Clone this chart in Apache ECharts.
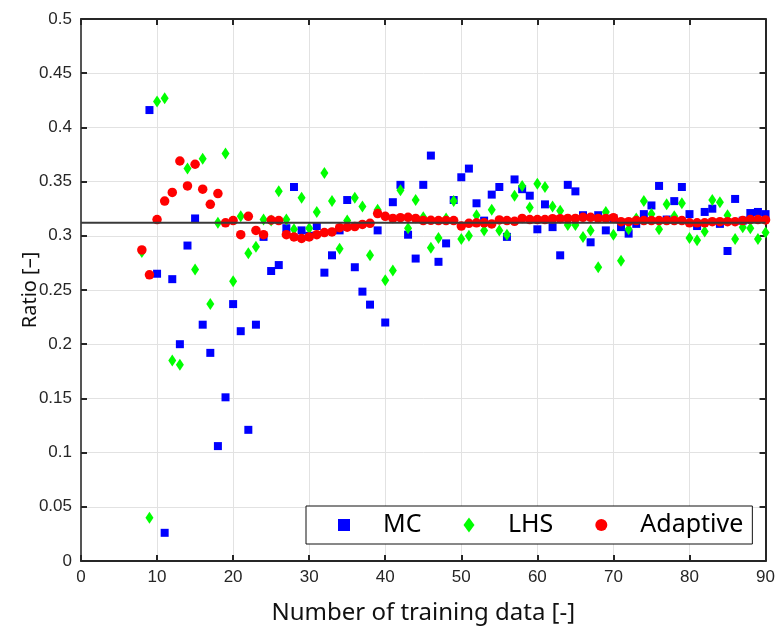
<!DOCTYPE html>
<html>
<head>
<meta charset="utf-8">
<script src="https://cdn.jsdelivr.net/npm/echarts@6/dist/echarts.min.js"></script>
<style>
  html, body { margin: 0; padding: 0; background: #ffffff; }
  #chart { width: 778px; height: 630px; }
</style>
</head>
<body>
<div id="chart"></div>
<script>
// Training-set sizes for each sampling method
const mcCounts = [];
for (let n = 9; n <= 90; n++) mcCounts.push(n);
const lhsCounts = [];
for (let n = 8; n <= 90; n++) lhsCounts.push(n);
const adaptiveCounts = [];
for (let n = 8; n <= 90; n++) adaptiveCounts.push(n);

// Estimated ratio for each training-set size
const mcValues = [
  0.416, 0.265, 0.026, 0.260, 0.200, 0.291, 0.316, 0.218, 0.192, 0.106,
  0.151, 0.237, 0.212, 0.121, 0.218, 0.299, 0.2675, 0.273, 0.307, 0.345,
  0.305, 0.300, 0.309, 0.266, 0.282, 0.305, 0.333, 0.271, 0.2485, 0.2365,
  0.305, 0.220, 0.331, 0.347, 0.301, 0.279, 0.347, 0.374, 0.276, 0.293,
  0.333, 0.354, 0.362, 0.330, 0.314, 0.338, 0.345, 0.299, 0.352, 0.343,
  0.337, 0.306, 0.329, 0.308, 0.282, 0.347, 0.341, 0.319, 0.294, 0.319,
  0.305, 0.316, 0.308, 0.302, 0.311, 0.320, 0.328, 0.346, 0.315, 0.332,
  0.345, 0.320, 0.309, 0.322, 0.325, 0.311, 0.286, 0.334, 0.314, 0.321,
  0.322, 0.320
];
const lhsValues = [
  0.285, 0.040, 0.424, 0.427, 0.185, 0.181, 0.362, 0.269, 0.371, 0.237,
  0.312, 0.376, 0.258, 0.318, 0.284, 0.290, 0.315, 0.314, 0.341, 0.315,
  0.306, 0.335, 0.307, 0.322, 0.358, 0.332, 0.288, 0.314, 0.335, 0.327,
  0.282, 0.324, 0.259, 0.268, 0.342, 0.307, 0.333, 0.317, 0.289, 0.298,
  0.316, 0.332, 0.297, 0.300, 0.319, 0.305, 0.324, 0.305, 0.301, 0.337,
  0.346, 0.326, 0.348, 0.345, 0.327, 0.323, 0.310, 0.310, 0.299, 0.305,
  0.271, 0.322, 0.301, 0.277, 0.306, 0.316, 0.332, 0.320, 0.306, 0.329,
  0.318, 0.330, 0.298, 0.296, 0.304, 0.333, 0.331, 0.319, 0.297, 0.308,
  0.307, 0.297, 0.303
];
const adaptiveValues = [
  0.287, 0.264, 0.315, 0.332, 0.340, 0.369, 0.346, 0.366, 0.343, 0.329,
  0.339, 0.312, 0.314, 0.301, 0.318, 0.305, 0.301, 0.3145, 0.314, 0.301,
  0.299, 0.2975, 0.299, 0.301, 0.303, 0.3036, 0.3075, 0.308, 0.3085, 0.3105,
  0.3115, 0.3205, 0.318, 0.316, 0.3167, 0.317, 0.316, 0.314, 0.3143, 0.314,
  0.314, 0.314, 0.309, 0.3115, 0.312, 0.312, 0.311, 0.3146, 0.314, 0.3134,
  0.316, 0.315, 0.315, 0.315, 0.3158, 0.3158, 0.316, 0.316, 0.317, 0.317,
  0.316, 0.316, 0.3167, 0.313, 0.313, 0.314, 0.314, 0.314, 0.314, 0.314,
  0.314, 0.314, 0.312, 0.312, 0.312, 0.313, 0.313, 0.313, 0.313, 0.314,
  0.315, 0.315, 0.3146
];

// Reference ratio drawn as a horizontal line across the plot
const referenceRatio = 0.312;
const referenceSpan = [0, 90];

const xTicks = { min: 0, max: 90, interval: 10 };
const yTicks = { min: 0, max: 0.5, interval: 0.05 };

const pairs = (xs, ys) => xs.map((x, i) => [x, ys[i]]);

const axisColor = '#262626';
const gridColor = '#e2e2e2';
const tickFont = 'Liberation Sans, Arial, sans-serif';
const titleFont = 'Noto Sans, sans-serif';

const chart = echarts.init(document.getElementById('chart'), null, { renderer: 'canvas' });

chart.setOption({
  animation: false,
  backgroundColor: '#ffffff',
  grid: { left: 81, right: 9, top: 19, bottom: 69, containLabel: false },
  xAxis: [
    {
      type: 'value', position: 'bottom',
      min: xTicks.min, max: xTicks.max, interval: xTicks.interval,
      name: 'Number of training data [-]',
      nameLocation: 'middle', nameGap: 40, nameMoveOverlap: false,
      nameTextStyle: { fontFamily: titleFont, fontSize: 24, color: '#111' },
      axisLine: { show: true, onZero: false, lineStyle: { color: axisColor, width: 2 } },
      axisTick: { show: true, inside: true, length: 6, lineStyle: { color: axisColor, width: 2 } },
      axisLabel: { fontFamily: tickFont, fontSize: 17, color: axisColor, margin: 8 },
      splitLine: { show: true, lineStyle: { color: gridColor, width: 1 } }
    },
    {
      type: 'value', position: 'top',
      min: xTicks.min, max: xTicks.max, interval: xTicks.interval,
      axisLine: { show: true, onZero: false, lineStyle: { color: axisColor, width: 2 } },
      axisTick: { show: true, inside: true, length: 6, lineStyle: { color: axisColor, width: 2 } },
      axisLabel: { show: false },
      splitLine: { show: false }
    }
  ],
  yAxis: [
    {
      type: 'value', position: 'left',
      min: yTicks.min, max: yTicks.max, interval: yTicks.interval,
      name: 'Ratio [–]',
      nameLocation: 'middle', nameGap: 41, nameRotate: 90, nameMoveOverlap: false,
      nameTextStyle: { fontFamily: titleFont, fontSize: 20, color: '#111' },
      axisLine: { show: true, onZero: false, lineStyle: { color: '#555', width: 2 } },
      axisTick: { show: true, inside: true, length: 6, lineStyle: { color: axisColor, width: 2 } },
      axisLabel: {
        fontFamily: tickFont, fontSize: 17, color: axisColor, margin: 9,
        formatter: v => String(Math.round(v * 100) / 100)
      },
      splitLine: { show: true, lineStyle: { color: gridColor, width: 1 } }
    },
    {
      type: 'value', position: 'right',
      min: yTicks.min, max: yTicks.max, interval: yTicks.interval,
      axisLine: { show: true, onZero: false, lineStyle: { color: axisColor, width: 2 } },
      axisTick: { show: true, inside: true, length: 6, lineStyle: { color: axisColor, width: 2 } },
      axisLabel: { show: false },
      splitLine: { show: false }
    }
  ],
  legend: {
    left: 306, top: 506,
    orient: 'horizontal',
    backgroundColor: '#ffffff',
    borderColor: '#111',
    borderWidth: 1,
    padding: [4, 9, 4, 32],
    itemGap: 42,
    itemWidth: 12,
    itemHeight: 15,
    selectedMode: false,
    textStyle: { fontFamily: titleFont, fontSize: 25, color: '#000', padding: [0, 0, 0, 28], lineHeight: 30 },
    data: [
      { name: 'MC', icon: 'path://M0,0h11v11h-11z' },
      { name: 'LHS', icon: 'path://M5.5,0L11,7.5L5.5,15L0,7.5Z' },
      { name: 'Adaptive', icon: 'circle' }
    ]
  },
  series: [
    {
      name: 'MC', type: 'scatter', symbol: 'rect', symbolSize: 8,
      itemStyle: { color: '#0000ff', opacity: 1 },
      data: pairs(mcCounts, mcValues), z: 2
    },
    {
      name: 'LHS', type: 'scatter', symbol: 'diamond', symbolSize: [8, 12],
      itemStyle: { color: '#00ff00', opacity: 1 },
      data: pairs(lhsCounts, lhsValues), z: 3
    },
    {
      name: 'Adaptive', type: 'scatter', symbol: 'circle', symbolSize: 9.5,
      itemStyle: { color: '#ff0000', opacity: 1 },
      data: pairs(adaptiveCounts, adaptiveValues), z: 4
    },
    {
      name: 'reference', type: 'line', showSymbol: false, symbol: 'none',
      lineStyle: { color: '#3a3a3a', width: 2 },
      data: referenceSpan.map(x => [x, referenceRatio]), z: 5,
      silent: true
    }
  ]
});
</script>
</body>
</html>
